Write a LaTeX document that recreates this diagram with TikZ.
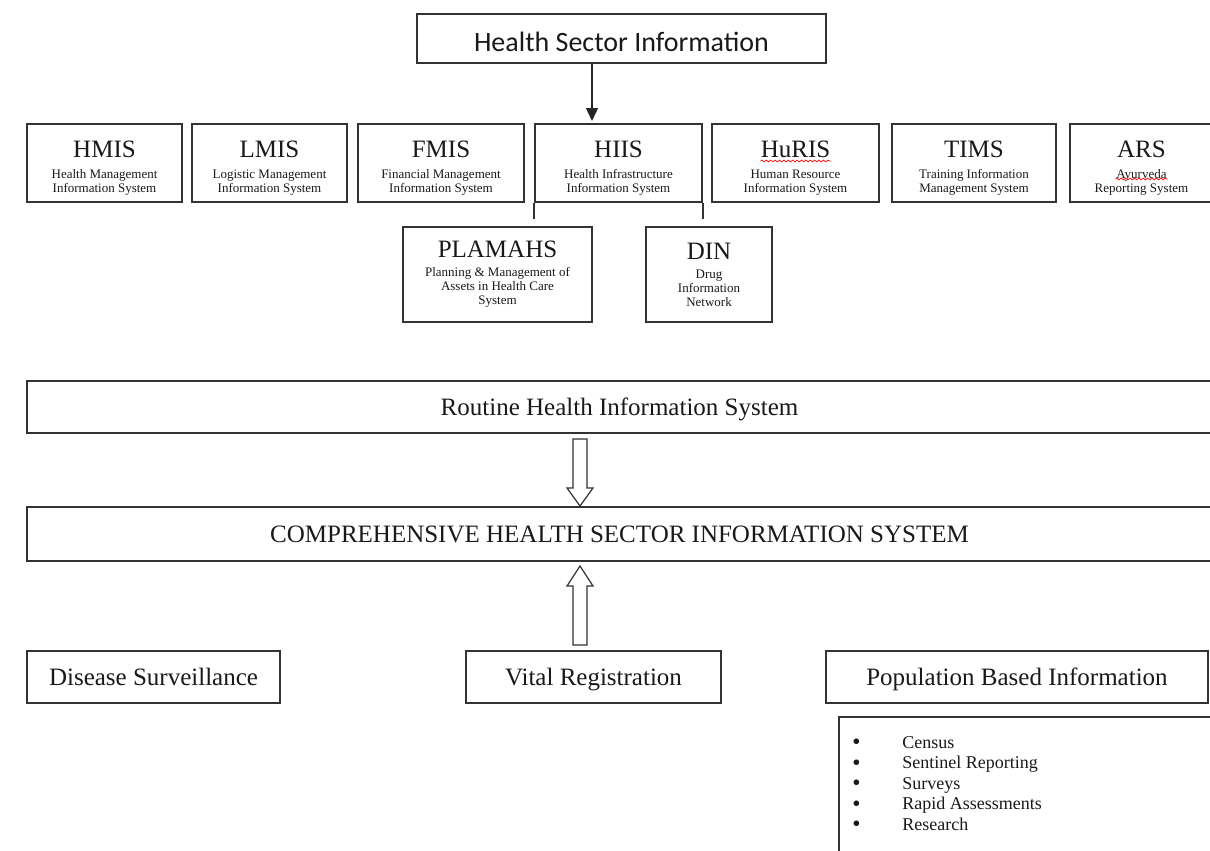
\documentclass[tikz,border=0pt]{standalone}
\usepackage{fontspec}
\setmainfont{Liberation Serif}
\newfontfamily\calibri{Carlito}
\usetikzlibrary{arrows.meta,calc,decorations.pathmorphing}

\newcommand{\systitle}[1]{{\fontsize{12.5}{13}\selectfont #1}}
\newcommand{\rowtitle}[1]{{\fontsize{12.5}{13}\selectfont\rule{0pt}{13.8pt}#1}}
\newcommand{\bull}{\makebox[25pt][l]{\raisebox{-0.6pt}{\scalebox{1.3}{\textbullet}}}}

\begin{document}
\begin{tikzpicture}[
  x=0.5pt, y=-0.5pt,
  box/.style={draw=black!80, line width=0.8pt, inner sep=0pt, align=center,
              text=black!90, font=\fontsize{12.5}{14}\selectfont},
  sys/.style={box, minimum height=39pt, font=\fontsize{6.5}{7}\selectfont},
  sub/.style={box, minimum height=47.5pt, font=\fontsize{6.5}{7}\selectfont},
  src/.style={box, minimum height=26pt, text height=11pt, text depth=2.5pt},
  edge/.style={draw=black!80, line width=0.8pt},
  arr/.style={-{Triangle[length=6.5pt, width=6pt]}, line width=0.7pt, black!85},
  hollow/.style={draw=black!80, line width=0.6pt, line join=miter, fill=white},
  spell/.style={red, line width=0.35pt, decorate,
                decoration={snake, segment length=2.2pt, amplitude=0.45pt}},
]
\useasboundingbox (0,0) rectangle (1210,851);
\clip (0,0) rectangle (1210,851);

\node[box, minimum width=204.5pt, minimum height=24.5pt, text height=15pt, text depth=2.5pt,
      font=\calibri\fontsize{14}{16}\selectfont]
  (hsi) at (621.5,38.5) {Health Sector Information};

% the seven sector systems
\node[sys, minimum width=77.5pt] (hmis)  at (104.5,163)  {\rowtitle{HMIS}\\[3.5pt]Health Management\\Information System};
\node[sys, minimum width=77.5pt] (lmis)  at (269.5,163)  {\rowtitle{LMIS}\\[3.5pt]Logistic Management\\Information System};
\node[sys, minimum width=83pt]   (fmis)  at (441,163)    {\rowtitle{FMIS}\\[3.5pt]Financial Management\\Information System};
\node[sys, minimum width=83.5pt] (hiis)  at (618.5,163)  {\rowtitle{HIIS}\\[3.5pt]Health Infrastructure\\Information System};
\node[sys, minimum width=83.5pt] (huris) at (795.5,163)  {\rowtitle{HuRIS}\\[3.5pt]Human Resource\\Information System};
\node[sys, minimum width=82pt]   (tims)  at (974,163)    {\rowtitle{TIMS}\\[3.5pt]Training Information\\Management System};
\node[sys, minimum width=71.5pt] (ars)   at (1141.5,163) {\rowtitle{ARS}\\[3.5pt]Ayurveda\\Reporting System};

\coordinate (tip) at (592,121);
\draw[arr] (hsi.south -| tip) -- (tip);

% HIIS sub-systems
\draw[edge] (hiis.south west) -- ++(0,16);
\draw[edge] (hiis.south east) -- ++(0,16);
\node[sub, minimum width=94.5pt] (plamahs) at (497.5,274.5) {\systitle{PLAMAHS}\\[2.5pt]Planning \& Management of\\Assets in Health Care\\System};
\node[sub, minimum width=63pt]   (din)     at (709,274.5)   {\systitle{DIN}\\[2.5pt]Drug\\Information\\Network};

% spell-check marks
\draw[spell] ($(huris.center)+(-35,-2)$) -- ($(huris.center)+(35,-2)$);
\draw[spell] ($(ars.center)+(-26,16)$) -- ($(ars.center)+(26,16)$);

\node[src, minimum width=592.5pt] (rhis)  at (619.5,407) {Routine Health Information System};
\node[src, minimum width=592.5pt, minimum height=27pt] (chsis) at (619.5,534) {COMPREHENSIVE HEALTH SECTOR INFORMATION SYSTEM};

% block arrows into the comprehensive system
\coordinate (dn) at (580,439);
\coordinate (up) at (580,645);
\draw[hollow] (dn) ++(-7,0) -- ++(14,0) -- ++(0,49) -- ++(6,0) -- ++(-13,18) -- ++(-13,-18) -- ++(6,0) -- cycle;
\draw[hollow] (up) ++(-7,0) -- ++(14,0) -- ++(0,-59) -- ++(6,0) -- ++(-13,-20) -- ++(-13,20) -- ++(6,0) -- cycle;

% data sources
\node[src, minimum width=126.5pt] (dis)   at (153.5,677) {Disease Surveillance};
\node[src, minimum width=127.5pt] (vital) at (593.5,677) {Vital Registration};
\node[src, minimum width=191pt]   (pop)   at (1017,677)  {Population Based Information};

\node[box, anchor=north west, minimum width=200pt, minimum height=80pt] (popbox) at (838,716) {};
\node[anchor=north west, align=left, inner sep=0pt, text=black!90, font=\fontsize{9}{10.25}\selectfont]
  (poplist) at (852,736) {\bull Census\\\bull Sentinel Reporting\\\bull Surveys\\\bull Rapid Assessments\\\bull Research};
\end{tikzpicture}
\end{document}
